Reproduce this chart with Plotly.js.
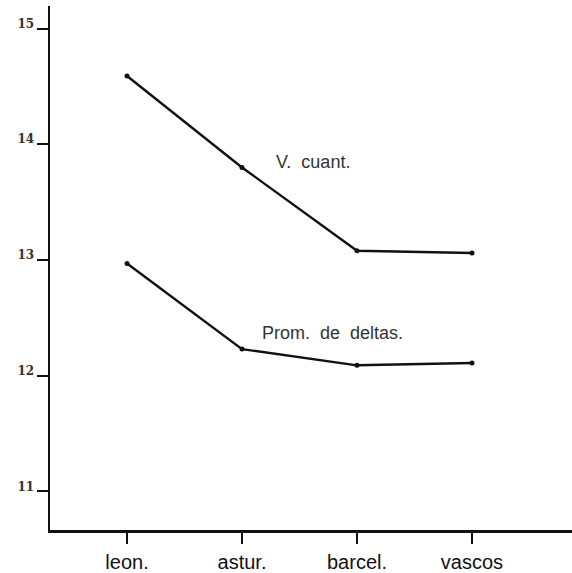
<!DOCTYPE html>
<html>
<head>
<meta charset="utf-8">
<script src="https://cdn.plot.ly/plotly-3.0.1.min.js"></script>
<style>
html,body{margin:0;padding:0;background:#fff;}
#chart{width:572px;height:573px;}
</style>
</head>
<body>
<div id="chart"></div>
<script>
var categories = ["leon.", "astur.", "barcel.", "vascos"];
var vCuant = [14.59, 13.80, 13.08, 13.06];
var promDeltas = [12.97, 12.23, 12.09, 12.11];
var yTicks = [11, 12, 13, 14, 15];
var yTickLabels = ["11", "12", "13", "14", "15"];
var seriesLabels = ["V.  cuant.", "Prom.  de  deltas."];
var labelPos = [[1.62, 13.85], [1.79, 12.37]];

var xIdx = categories.map(function(c, i){ return i; });

var lineStyle = {color: "#111", width: 2.4};
var markerStyle = {color: "#111", size: 5};

var traces = [
  {x: xIdx, y: vCuant, mode: "lines+markers", line: lineStyle, marker: markerStyle, hoverinfo: "none"},
  {x: xIdx, y: promDeltas, mode: "lines+markers", line: lineStyle, marker: markerStyle, hoverinfo: "none"}
];

var layout = {
  width: 572, height: 573,
  margin: {l: 50, r: 0, t: 6, b: 43},
  paper_bgcolor: "#fff", plot_bgcolor: "#fff",
  showlegend: false,
  xaxis: {
    range: [-0.67, 3.87],
    tickvals: xIdx, ticktext: categories,
    showgrid: false, zeroline: false,
    showline: true, linecolor: "#111", linewidth: 3,
    ticks: "outside", ticklen: 11, tickwidth: 2.5, tickcolor: "#111",
    tickfont: {family: "Liberation Sans, Arial, sans-serif", size: 20, color: "#111"},
    ticklabelstandoff: 1
  },
  yaxis: {
    range: [10.667, 15.195],
    tickvals: yTicks, ticktext: yTickLabels,
    showgrid: false, zeroline: false,
    showline: true, linecolor: "#111", linewidth: 2.5,
    ticks: "outside", ticklen: 11, tickwidth: 2, tickcolor: "#111",
    tickfont: {family: "DejaVu Serif, serif", size: 12, color: "#333", weight: "bold"},
    ticklabelstandoff: 0,
    ticklabelshift: -5
  },
  annotations: seriesLabels.map(function(t, i){
    return {x: labelPos[i][0], y: labelPos[i][1], xref: "x", yref: "y", text: t, showarrow: false,
            font: {family: "Liberation Sans, Arial, sans-serif", size: 18, color: "#333"}};
  })
};

Plotly.newPlot("chart", traces, layout, {displayModeBar: false, staticPlot: true});
</script>
</body>
</html>
